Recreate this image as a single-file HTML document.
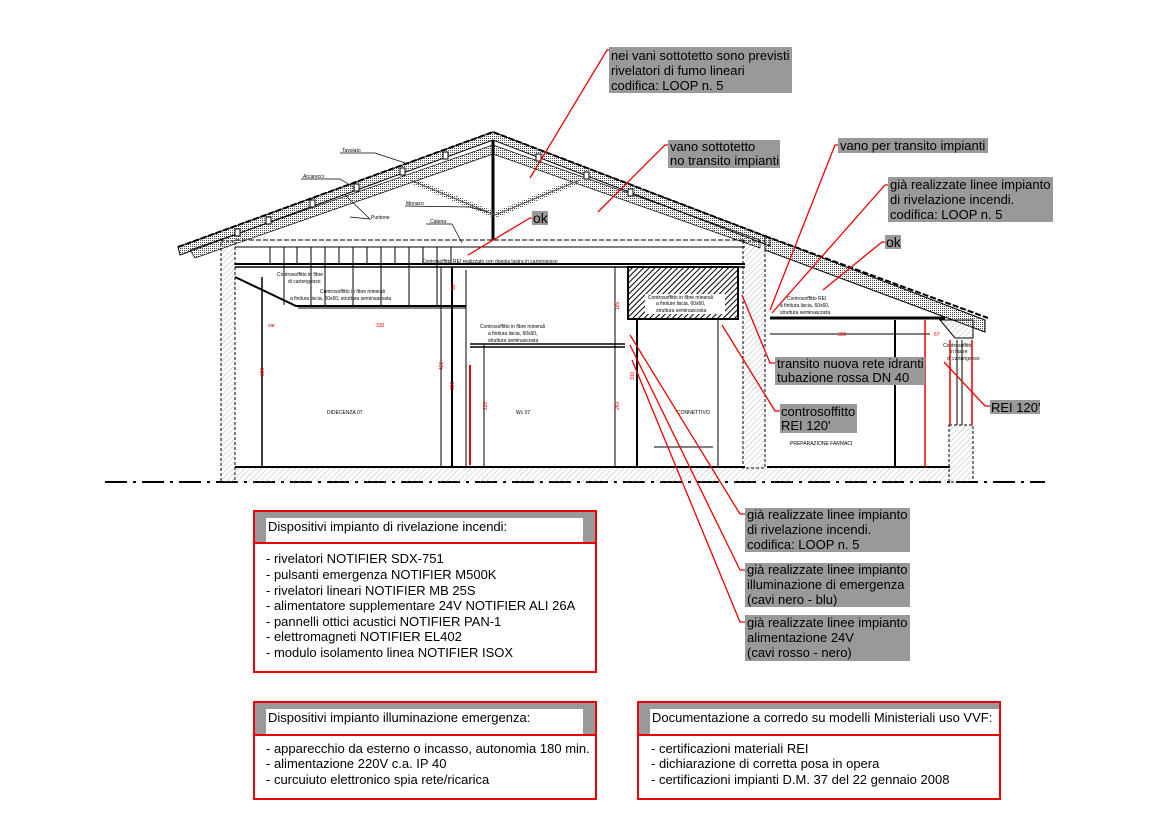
<!DOCTYPE html>
<html><head><meta charset="utf-8"><style>
html,body{margin:0;padding:0;background:#fff;}
svg{display:block;font-family:"Liberation Sans",sans-serif;}
.t{font-size:13px;fill:#000}
.s{font-size:5px;fill:#000}
.r{font-size:5px;fill:#e00}
</style></head><body>
<svg width="1170" height="827" viewBox="0 0 1170 827" xmlns="http://www.w3.org/2000/svg">
<defs>
<pattern id="h" width="4" height="4" patternUnits="userSpaceOnUse" patternTransform="rotate(45)"><line x1="0" y1="0" x2="0" y2="4" stroke="#bbb" stroke-width="1"/></pattern>
<pattern id="hd" width="4" height="4" patternUnits="userSpaceOnUse" patternTransform="rotate(45)"><line x1="0" y1="0" x2="0" y2="4" stroke="#000" stroke-width="2"/></pattern>
<pattern id="dot" width="2" height="2" patternUnits="userSpaceOnUse"><rect width="1" height="1" fill="#444"/></pattern>
</defs>

<line x1="105" y1="482" x2="1045" y2="482" stroke="#000" stroke-width="2" stroke-dasharray="22,6,3,6"/>

<rect x="221" y="241" width="14" height="241" fill="url(#h)" stroke="#000" stroke-width="1" stroke-dasharray="3,2"/>
<rect x="235" y="468" width="712" height="14" fill="url(#h)"/>
<rect x="743" y="241" width="22" height="227" fill="url(#h)" stroke="#000" stroke-width="1" stroke-dasharray="3,2"/>
<rect x="949" y="425" width="24" height="57" fill="url(#h)" stroke="#000" stroke-width="1" stroke-dasharray="3,2"/>
<line x1="235" y1="467" x2="745" y2="467" stroke="#000" stroke-width="2"/>
<line x1="767" y1="467" x2="950" y2="467" stroke="#000" stroke-width="2"/>

<polygon points="178,247 493,132 770,238 770,246 493,140 180,255" fill="url(#dot)" stroke="#000" stroke-width="1"/>
<polygon points="190,250 493,145 760,240 760,248 493,154 195,258" fill="url(#dot)" stroke="#000" stroke-width="0.7"/>
<path d="M178,247 L493,132 L770,238" fill="none" stroke="#000" stroke-width="2" stroke-dasharray="6,2"/>
<line x1="493" y1="140" x2="493" y2="240" stroke="#000" stroke-width="3"/>
<line x1="410" y1="180" x2="495" y2="215" stroke="url(#dot)" stroke-width="6"/>
<line x1="410" y1="180" x2="495" y2="215" stroke="#555" stroke-width="1"/>
<line x1="580" y1="180" x2="495" y2="215" stroke="url(#dot)" stroke-width="6"/>
<line x1="580" y1="180" x2="495" y2="215" stroke="#555" stroke-width="1"/>
<g fill="#fff" stroke="#000"><rect x="235" y="229" width="5" height="7"/><rect x="266" y="217" width="5" height="7"/><rect x="310" y="200" width="5" height="7"/><rect x="354" y="184" width="5" height="7"/><rect x="400" y="168" width="5" height="7"/><rect x="443" y="152" width="5" height="7"/><rect x="536" y="154" width="5" height="7"/><rect x="584" y="172" width="5" height="7"/><rect x="628" y="189" width="5" height="7"/></g>
<g class="s"><text x="342" y="152">Tavolato</text><text x="303" y="178">Arcarecci</text><text x="406" y="205">Monaco</text><text x="371" y="219">Puntone</text><text x="430" y="223">Catena</text></g>
<g stroke="#000" stroke-width="0.7" fill="none"><path d="M340,153 L375,153 L405,163"/><path d="M301,179 L340,179 L355,188"/><path d="M405,206 L470,207 L488,212"/><path d="M350,217 L370,219 L345,195"/><path d="M426,224 L452,224 L462,243"/></g>

<line x1="235" y1="240" x2="745" y2="240" stroke="#000" stroke-width="1" stroke-dasharray="5,2"/>
<line x1="235" y1="247" x2="745" y2="247" stroke="#000" stroke-width="1"/>
<line x1="235" y1="264" x2="745" y2="264" stroke="#000" stroke-width="2"/>
<g stroke="#000" stroke-width="1"><line x1="270" y1="247" x2="270" y2="264"/><line x1="284" y1="247" x2="284" y2="305"/><line x1="297" y1="247" x2="297" y2="264"/><line x1="311" y1="247" x2="311" y2="305"/><line x1="325" y1="247" x2="325" y2="305"/><line x1="339" y1="247" x2="339" y2="264"/><line x1="353" y1="247" x2="353" y2="305"/><line x1="367" y1="247" x2="367" y2="264"/><line x1="381" y1="247" x2="381" y2="305"/><line x1="395" y1="247" x2="395" y2="264"/><line x1="409" y1="247" x2="409" y2="305"/><line x1="423" y1="247" x2="423" y2="264"/><line x1="437" y1="247" x2="437" y2="305"/><line x1="451" y1="247" x2="451" y2="264"/></g>
<text x="422" y="263" class="s">Controsoffitto REI realizzato con doppia lastra in cartongesso</text>

<g stroke="#000" fill="none">
<line x1="235" y1="267" x2="745" y2="267" stroke-width="1.5"/>
<polyline points="235,277 296,306 466,306" stroke-width="2"/>
<line x1="298" y1="308" x2="466" y2="308"/>
<line x1="262" y1="277" x2="262" y2="467" stroke-width="1.5"/>
<line x1="441" y1="267" x2="441" y2="467"/>
<line x1="452" y1="267" x2="452" y2="467" stroke-width="2"/>
<line x1="466" y1="270" x2="466" y2="467"/>
<line x1="470" y1="344" x2="625" y2="344" stroke-width="1.5"/>
<line x1="470" y1="347" x2="625" y2="347" stroke-width="1.5"/>
<line x1="484" y1="345" x2="484" y2="467"/>
<line x1="615" y1="267" x2="615" y2="467"/>
<line x1="637" y1="320" x2="637" y2="467" stroke-width="2"/>
<line x1="718" y1="320" x2="718" y2="467"/>
<line x1="654" y1="447" x2="713" y2="447"/>
<line x1="770" y1="318" x2="945" y2="318" stroke-width="3"/>
<line x1="770" y1="334" x2="930" y2="334" stroke-width="1"/>
<line x1="895" y1="320" x2="895" y2="467" stroke-width="2"/>
<line x1="950" y1="340" x2="950" y2="425"/><line x1="957" y1="340" x2="957" y2="425"/><line x1="962" y1="340" x2="962" y2="425"/>
</g>
<rect x="628" y="267" width="110" height="52" fill="url(#hd)" stroke="#000" stroke-width="2"/>
<rect x="645" y="294" width="80" height="20" fill="#fff"/>
<g class="s"><text x="648" y="299">Controsoffitto in fibre minerali</text><text x="656" y="305">a finiture liscia, 60x60,</text><text x="656" y="312">struttura seminascosta</text></g>

<polygon points="765,236 985,320 985,332 765,250" fill="url(#dot)" stroke="#000"/>
<line x1="765" y1="236" x2="988" y2="318" stroke="#000" stroke-width="2" stroke-dasharray="6,2"/>
<polygon points="940,320 973,320 973,338 955,338" fill="url(#h)" stroke="#000"/>

<g class="s">
<text x="277" y="276">Controsoffitto in fibre</text><text x="288" y="283">di cartongesso</text>
<text x="320" y="293">Controsoffitto in fibre minerali</text><text x="290" y="300">a finitura liscia, 60x60, struttura seminascosta</text>
<text x="480" y="328">Controsoffitto in fibre minerali</text><text x="488" y="335">a finitura liscia, 60x60,</text><text x="488" y="342">struttura seminascosta</text>
<text x="327" y="414">DIDECENZA 07</text><text x="516" y="414">Wc 07</text><text x="677" y="414">CONNETTIVO</text>
<text x="787" y="300">Controsoffitto REI</text><text x="780" y="307">a finitura liscia, 60x60,</text><text x="780" y="314">struttura seminascosta</text>
<text x="790" y="445">PREPARAZIONE FARMACI</text>
<text x="943" y="347">Controsoffitto</text><text x="950" y="353">in lastre</text><text x="947" y="360">di cartongesso</text>
</g>
<g class="r"><text x="268" y="327">var</text><text x="376" y="327">330</text><text x="838" y="336">330</text><text x="934" y="336">67</text></g>
<g class="r" transform="rotate(-90)"><text x="-376" y="264">300</text><text x="-370" y="443">430</text><text x="-390" y="454">395</text><text x="-410" y="487">220</text><text x="-410" y="619">260</text><text x="-310" y="619">185</text><text x="-290" y="455">90</text><text x="-380" y="634">310</text><text x="-370" y="897">310</text></g>
<line x1="470" y1="365" x2="470" y2="465" stroke="#e00" stroke-width="2"/>
<g stroke="#e00" stroke-width="1.5"><line x1="925" y1="320" x2="925" y2="467"/><line x1="950" y1="340" x2="950" y2="425"/><line x1="972" y1="340" x2="972" y2="425"/></g>

<g stroke="#e00" stroke-width="1.3" fill="none">
<polyline points="612,50 607,50 530,178"/>
<polyline points="670,145 665,145 598,212"/>
<polyline points="840,145 835,145 770,310"/>
<polyline points="890,185 885,185 772,313"/>
<polyline points="887,242 882,242 823,290"/>
<polyline points="534,218 530,218 468,255"/>
<polyline points="776,363 770,363 742,295"/>
<polyline points="780,411 775,411 722,325"/>
<polyline points="990,406 985,406 944,362"/>
<polyline points="746,514 740,514 630,335"/>
<polyline points="746,570 740,570 630,345"/>
<polyline points="746,622 740,622 632,360"/>
</g>
<g fill="#999">
<rect x="609" y="47" width="183" height="46"/>
<rect x="668" y="140" width="112" height="28"/>
<rect x="838" y="138" width="150" height="15"/>
<rect x="888" y="177" width="165" height="45"/>
<rect x="885" y="235" width="16" height="14"/>
<rect x="532" y="211" width="16" height="14"/>
<rect x="775" y="357" width="150" height="28"/>
<rect x="780" y="404" width="77" height="29"/>
<rect x="990" y="400" width="50" height="14"/>
<rect x="745" y="508" width="165" height="44"/>
<rect x="745" y="563" width="165" height="44"/>
<rect x="745" y="615" width="165" height="46"/>
</g>
<g class="t">
<text x="611" y="60">nei vani sottotetto sono previsti</text><text x="611" y="75">rivelatori di fumo lineari</text><text x="611" y="90">codifica: LOOP n. 5</text>
<text x="670" y="151">vano sottotetto</text><text x="670" y="165">no transito impianti</text>
<text x="840" y="150">vano per transito impianti</text>
<text x="890" y="189">già realizzate linee impianto</text><text x="890" y="204">di rivelazione incendi.</text><text x="890" y="219">codifica: LOOP n. 5</text>
<text x="886" y="247" style="font-size:14px">ok</text><text x="533" y="223" style="font-size:14px">ok</text>
<text x="777" y="368">transito nuova rete idranti</text><text x="777" y="382">tubazione rossa DN 40</text>
<text x="781" y="416">controsoffitto</text><text x="781" y="430">REI 120'</text>
<text x="991" y="412">REI 120'</text>
<text x="747" y="519">già realizzate linee impianto</text><text x="747" y="534">di rivelazione incendi.</text><text x="747" y="549">codifica: LOOP n. 5</text>
<text x="747" y="574">già realizzate linee impianto</text><text x="747" y="589">illuminazione di emergenza</text><text x="747" y="604">(cavi nero - blu)</text>
<text x="747" y="627">già realizzate linee impianto</text><text x="747" y="642">alimentazione 24V</text><text x="747" y="657">(cavi rosso - nero)</text>
</g>

<g fill="none" stroke="#e00" stroke-width="2">
<rect x="254" y="511" width="342" height="161"/><line x1="254" y1="543" x2="596" y2="543"/>
<rect x="254" y="702" width="342" height="97"/><line x1="254" y1="735" x2="596" y2="735"/>
<rect x="638" y="702" width="362" height="97"/><line x1="638" y1="735" x2="1000" y2="735"/>
</g>
<rect x="255" y="512" width="340" height="30" fill="#999"/><rect x="266" y="518" width="317" height="24" fill="#fff"/>
<rect x="255" y="703" width="340" height="31" fill="#999"/><rect x="266" y="709" width="317" height="25" fill="#fff"/>
<rect x="639" y="703" width="360" height="31" fill="#999"/><rect x="650" y="709" width="349" height="25" fill="#fff"/>
<g class="t">
<text x="268" y="531">Dispositivi impianto di rivelazione incendi:</text>
<text x="266" y="563">- rivelatori NOTIFIER SDX-751</text>
<text x="266" y="579">- pulsanti emergenza NOTIFIER M500K</text>
<text x="266" y="595">- rivelatori lineari NOTIFIER MB 25S</text>
<text x="266" y="610">- alimentatore supplementare 24V NOTIFIER ALI 26A</text>
<text x="266" y="626">- pannelli ottici acustici NOTIFIER PAN-1</text>
<text x="266" y="641">- elettromagneti NOTIFIER EL402</text>
<text x="266" y="657">- modulo isolamento linea NOTIFIER ISOX</text>
<text x="268" y="722">Dispositivi impianto illuminazione emergenza:</text>
<text x="266" y="753">- apparecchio da esterno o incasso, autonomia 180 min.</text>
<text x="266" y="768">- alimentazione 220V c.a. IP 40</text>
<text x="266" y="784">- curcuiuto elettronico spia rete/ricarica</text>
<text x="652" y="722">Documentazione a corredo su modelli Ministeriali uso VVF:</text>
<text x="651" y="753">- certificazioni materiali REI</text>
<text x="651" y="768">- dichiarazione di corretta posa in opera</text>
<text x="651" y="784">- certificazioni impianti D.M. 37 del 22 gennaio 2008</text>
</g>
</svg>
</body></html>
